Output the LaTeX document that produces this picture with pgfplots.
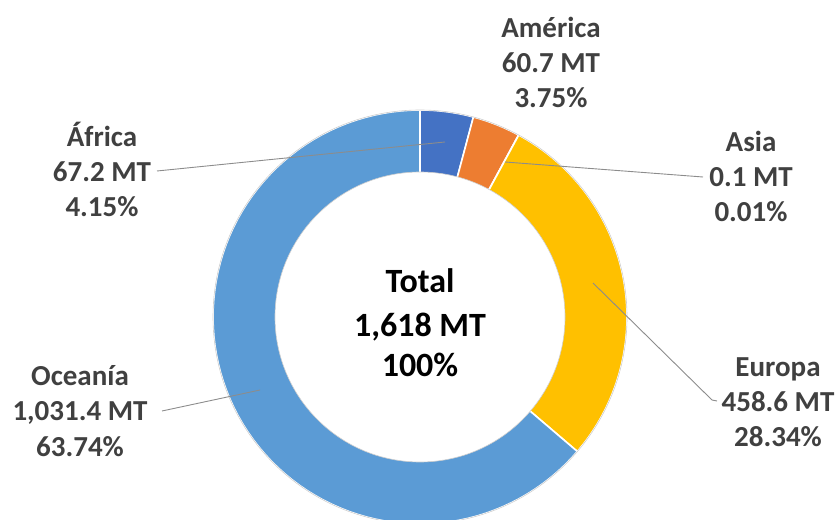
\documentclass[border=0pt]{standalone}
\usepackage{fontspec}
\setmainfont{Carlito}
\usepackage{pgfplots}
\pgfplotsset{compat=1.18}
\usepackage{pgfplotstable}
\definecolor{cAfrica}{HTML}{4472C4}
\definecolor{cAmerica}{HTML}{ED7D31}
\definecolor{cAsia}{HTML}{A5A5A5}
\definecolor{cEuropa}{HTML}{FFC000}
\definecolor{cOceania}{HTML}{5B9BD5}
\definecolor{labelink}{HTML}{404040}
\definecolor{leader}{HTML}{8C8C8C}
\definecolor{ringedge}{HTML}{CFCFCF}

% production by region (MT), clockwise from 12 o'clock
\pgfplotstableread{
region  value   colour
Africa  67.2    cAfrica
America 60.7    cAmerica
Asia    0.1     cAsia
Europa  458.6   cEuropa
Oceania 1031.4  cOceania
}\donutdata

\tikzset{lbl/.style={font=\fontsize{29}{35}\selectfont\bfseries, text=labelink, inner sep=0pt, anchor=base}}
% three stacked lines, #2 = baseline of the middle one
\newcommand{\lbl}[5]{%
  \node[lbl] at (axis cs:#1,#2+35) {#3};
  \node[lbl] at (axis cs:#1,#2) {#4};
  \node[lbl] at (axis cs:#1,#2-35) {#5};}

\begin{document}
\begin{tikzpicture}
\begin{axis}[
  scale only axis, width=837pt, height=519pt,
  xmin=0, xmax=837, ymin=0, ymax=519,
  hide axis,
]
\def\cx{420}\def\cy{202}\def\Ro{207}\def\Ri{145}
\def\total{0}
\pgfplotsforeachungrouped \i in {0,...,4}{%
  \pgfplotstablegetelem{\i}{value}\of\donutdata
  \pgfmathsetmacro\total{\total+\pgfplotsretval}}
\def\cum{0}
\pgfplotsforeachungrouped \i in {0,...,4}{%
  \pgfplotstablegetelem{\i}{value}\of\donutdata \let\val\pgfplotsretval
  \pgfplotstablegetelem{\i}{colour}\of\donutdata \let\col\pgfplotsretval
  \pgfmathsetmacro\astart{90-360*(\cum/\total)}
  \pgfmathsetmacro\cum{\cum+\val}
  \pgfmathsetmacro\aend{90-360*(\cum/\total)}
  \edef\sectorcmd{\noexpand\addplot[fill=\col, draw=white, line width=1.6pt,
      domain=\aend:\astart, samples=90]
    ({\cx+\Ro*cos(x)}, {\cy+\Ro*sin(x)}) -- (axis cs:\cx,\cy) -- cycle;}
  \sectorcmd
}
% hole
\addplot[fill=white, draw=none, domain=0:360, samples=120]
  ({\cx+\Ri*cos(x)}, {\cy+\Ri*sin(x)});
\draw[ringedge, line width=0.6pt] (axis cs:\cx,\cy) circle[radius=207pt];
\draw[ringedge, line width=0.6pt] (axis cs:\cx,\cy) circle[radius=145pt];

% leader lines
\draw[leader, line width=0.9pt] (axis cs:157,348) -- (axis cs:445,377);
\draw[leader, line width=0.9pt] (axis cs:703,342) -- (axis cs:505,357);
\draw[leader, line width=0.9pt] (axis cs:717,118) -- (axis cs:712,119) -- (axis cs:593,236);
\draw[leader, line width=0.9pt] (axis cs:162,108) -- (axis cs:260,129);

% data labels
\lbl{102}{337}{África}{67.2 MT}{4.15\%}
\lbl{551}{446.5}{América}{60.7 MT}{3.75\%}
\lbl{751}{332}{Asia}{0.1 MT}{0.01\%}
\lbl{778}{107.5}{Europa}{458.6 MT}{28.34\%}
\lbl{80}{98}{Oceanía}{1,031.4 MT}{63.74\%}

% centre
\node[font=\fontsize{34}{42}\selectfont\bfseries, inner sep=0pt, anchor=base] at (axis cs:420,226.7) {Total};
\node[font=\fontsize{34}{42}\selectfont\bfseries, inner sep=0pt, anchor=base] at (axis cs:420,182.3) {1,618 MT};
\node[font=\fontsize{34}{42}\selectfont\bfseries, inner sep=0pt, anchor=base] at (axis cs:420,142.3) {100\%};
\end{axis}
\pgfresetboundingbox
\path (current axis.south west) rectangle (current axis.north east);
\end{tikzpicture}
\end{document}
